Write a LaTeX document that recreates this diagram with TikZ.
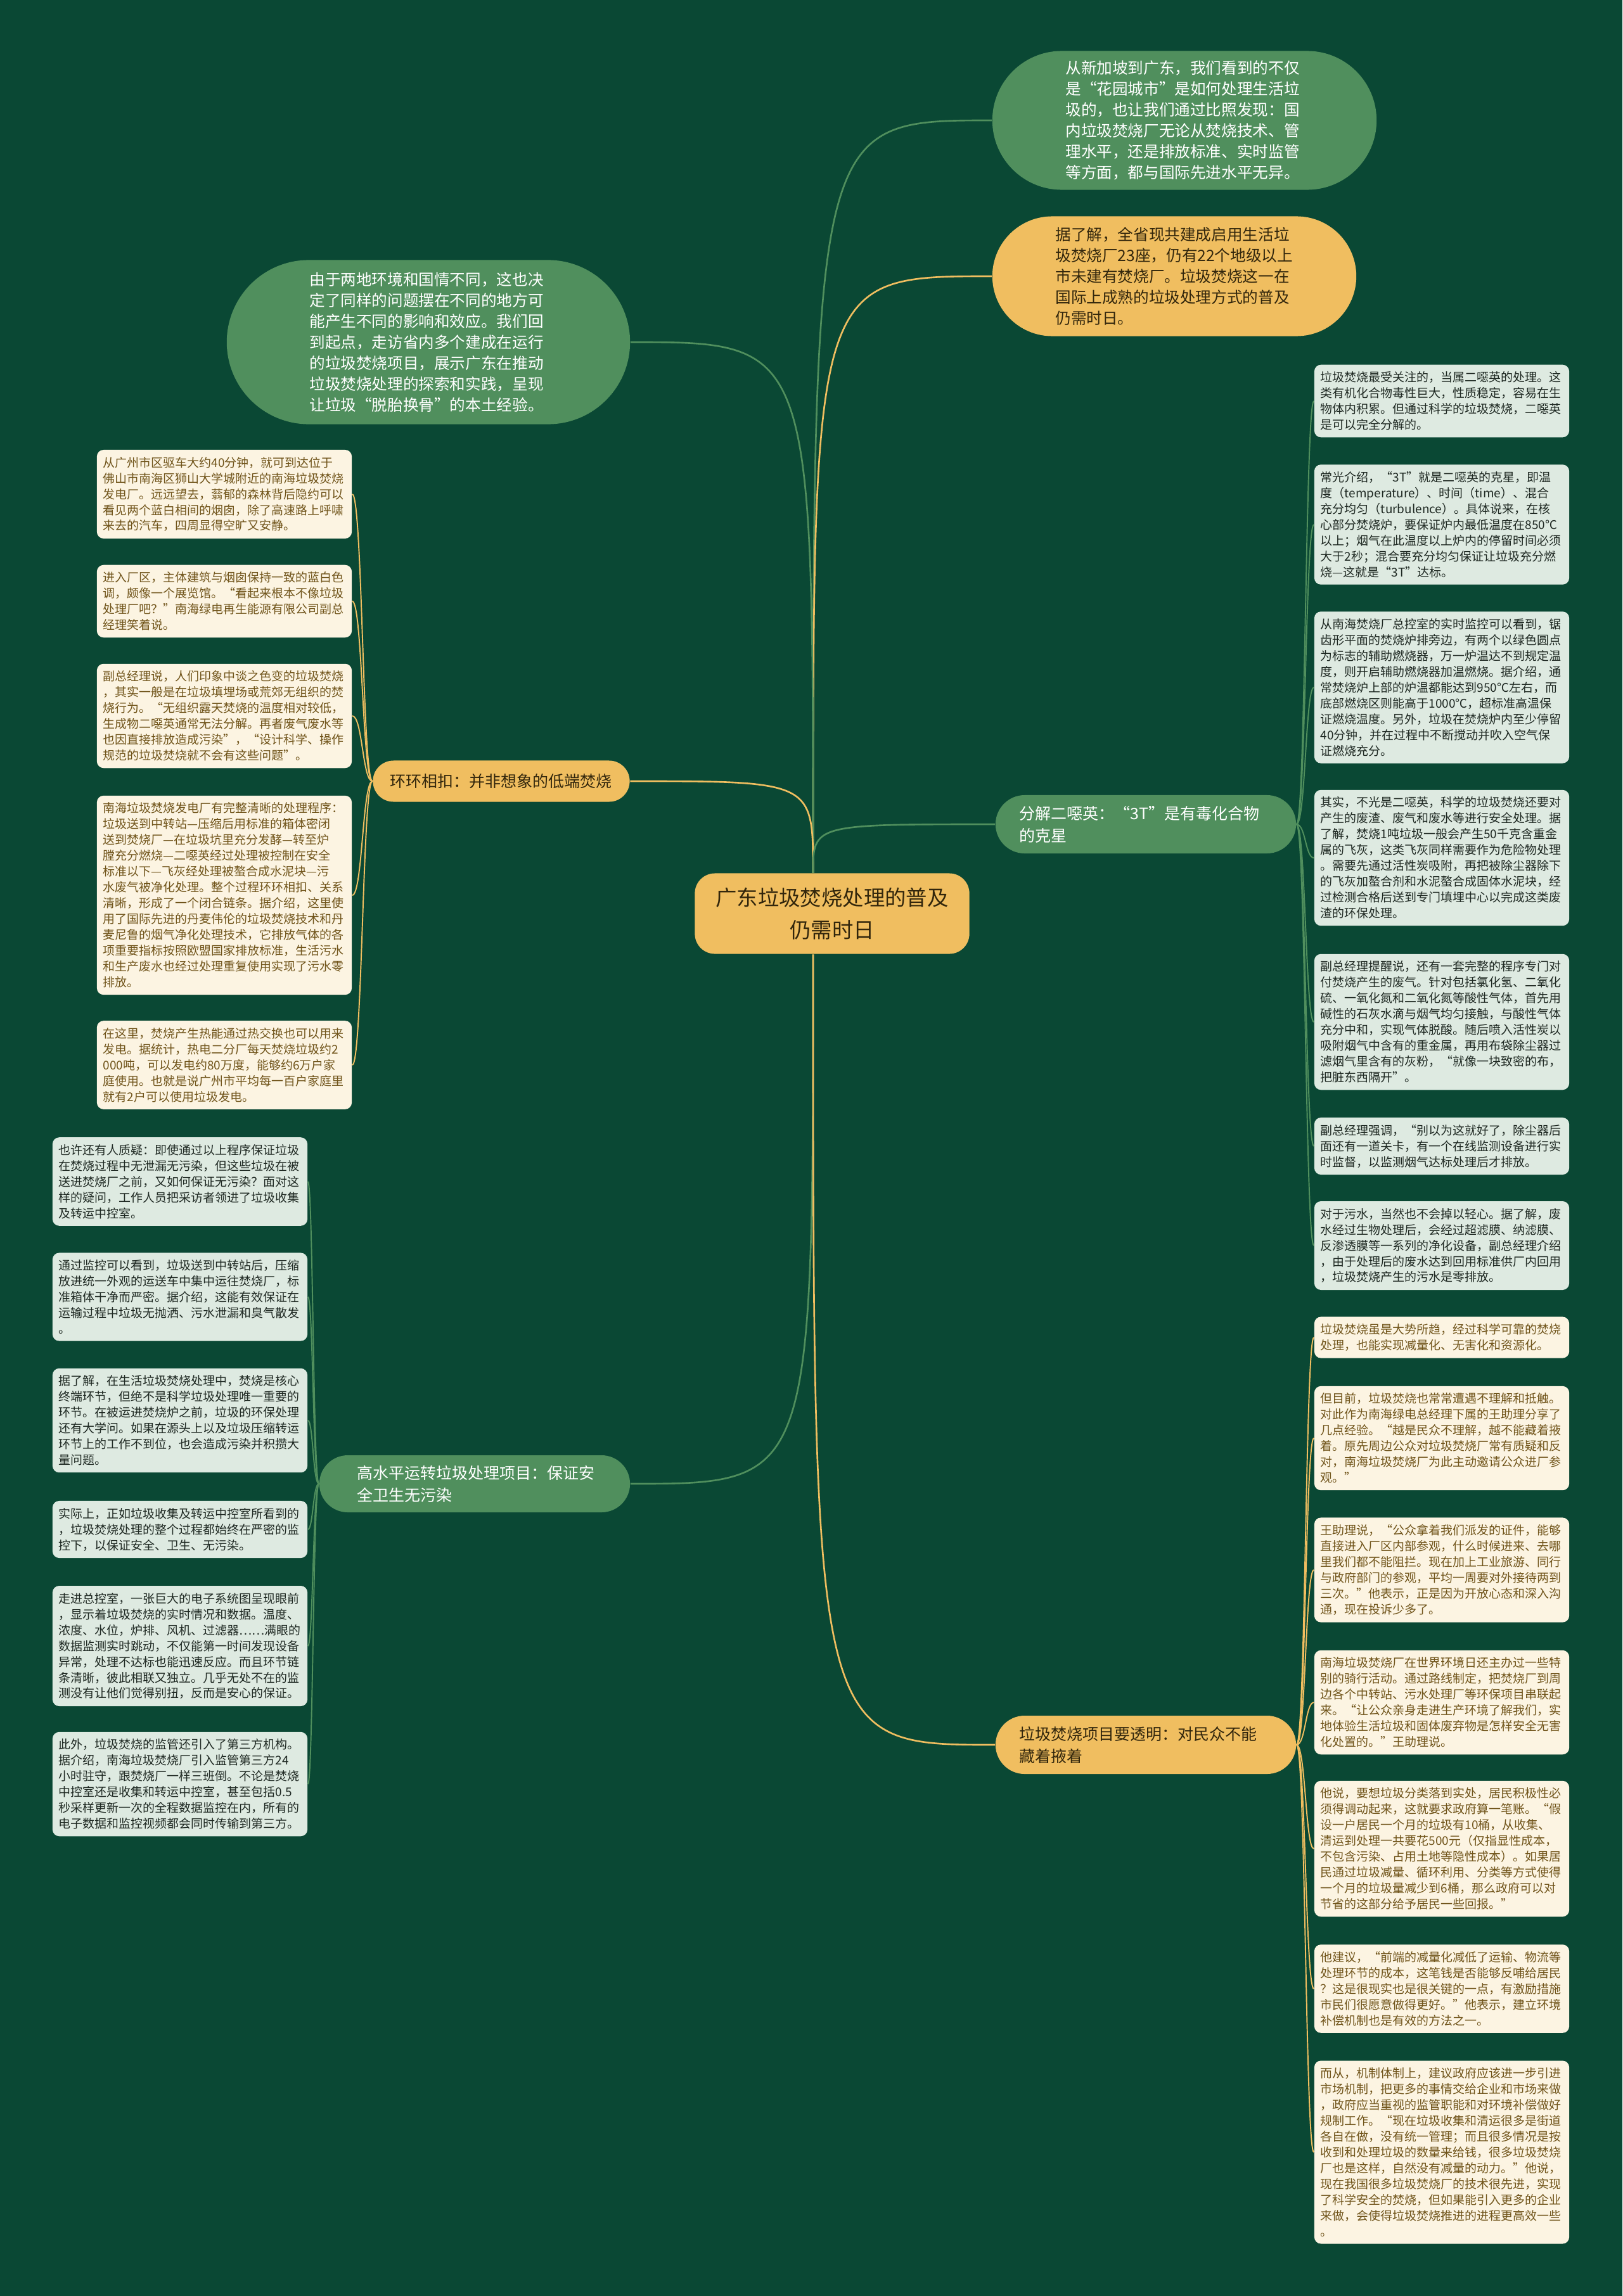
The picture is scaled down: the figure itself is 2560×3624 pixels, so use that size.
\documentclass[tikz,border=0pt]{standalone}
\usepackage{fontspec}
\setmainfont{Noto Sans CJK SC}
\usetikzlibrary{shapes.misc}
\definecolor{mmbg}{RGB}{10,72,52}
\definecolor{mmgreen}{RGB}{80,143,93}
\definecolor{mmyellow}{RGB}{240,190,96}
\definecolor{mmcream}{RGB}{252,244,226}
\definecolor{mmmint}{RGB}{222,234,225}
\definecolor{mmbrown}{RGB}{112,84,26}
\definecolor{mmink}{RGB}{30,40,34}
\definecolor{mmdark}{RGB}{50,38,12}
\hyphenpenalty=10000
\newcommand{\leaffont}{\fontsize{5.4pt}{7.1pt}\selectfont}
\newcommand{\bubfont}{\fontsize{7pt}{9.4pt}\selectfont}
\newcommand{\branchfont}{\fontsize{7.1pt}{9.95pt}\selectfont}
\newcommand{\rootfont}{\fontsize{9.5pt}{14.5pt}\selectfont}
\tikzset{
  leafy/.style={fill=mmcream, text=mmbrown, rounded corners=3pt,
                text width=3.82cm, inner xsep=0.1cm, inner ysep=0.11cm,
                align=left, font=\leaffont},
  leafg/.style={fill=mmmint, text=mmink, rounded corners=3pt,
                text width=3.82cm, inner xsep=0.1cm, inner ysep=0.11cm,
                align=left, font=\leaffont},
  bubble/.style={rounded rectangle, fill=#1, inner sep=0pt,
                 align=left, font=\bubfont},
  branch/.style={rounded rectangle, fill=#1, inner sep=0pt,
                 align=left, font=\branchfont},
  rootbox/.style={fill=mmyellow, text=mmdark, rounded corners=9pt,
                  minimum width=4.33cm, minimum height=1.27cm,
                  align=center, font=\rootfont},
  wire/.style={draw=#1, line width=0.75pt},
  twig/.style={draw=#1, line width=0.55pt},
}

\begin{document}
\begin{tikzpicture}[x=0.01cm, y=-0.01cm]

\fill[mmbg] (0,0) rectangle (2560,3624);
\useasboundingbox (0,0) rectangle (2560,3624);

% Root
\node[rootbox] (root) at (1313,1442) {广东垃圾焚烧处理的普及\\仍需时日};

% Top bubbles
\node[bubble=mmgreen, text=white, minimum width=6.06cm, minimum height=2.19cm,
      text width=3.75cm] (sgp) at (1869,190)
  {从新加坡到广东，我们看到的不仅\\是“花园城市”是如何处理生活垃\\圾的，也让我们通过比照发现：国\\内垃圾焚烧厂无论从焚烧技术、管\\理水平，还是排放标准、实时监管\\等方面，都与国际先进水平无异。};
\node[bubble=mmyellow, text=mmdark, minimum width=5.74cm, minimum height=1.89cm,
      text width=3.75cm] (gd) at (1853,436)
  {据了解，全省现共建成启用生活垃\\圾焚烧厂23座，仍有22个地级以上\\市未建有焚烧厂。垃圾焚烧这一在\\国际上成熟的垃圾处理方式的普及\\仍需时日。};
\node[bubble=mmgreen, text=white, minimum width=6.36cm, minimum height=2.59cm,
      text width=3.75cm] (bd) at (676,540)
  {由于两地环境和国情不同，这也决\\定了同样的问题摆在不同的地方可\\能产生不同的影响和效应。我们回\\到起点，走访省内多个建成在运行\\的垃圾焚烧项目，展示广东在推动\\垃圾焚烧处理的探索和实践，呈现\\让垃圾“脱胎换骨”的本土经验。};

% Branches
\node[branch=mmyellow, text=mmdark, minimum width=4.05cm, minimum height=0.65cm,
      text width=3.5cm] (hk) at (791,1233) {环环相扣：并非想象的低端焚烧};
\node[branch=mmgreen, text=white, minimum width=4.74cm, minimum height=0.92cm,
      text width=3.98cm] (dx) at (1808,1301) {分解二噁英：“3T”是有毒化合物\\的克星};
\node[branch=mmgreen, text=white, minimum width=4.9cm, minimum height=0.9cm,
      text width=3.7cm] (gs) at (749,2342) {高水平运转垃圾处理项目：保证安\\全卫生无污染};
\node[branch=mmyellow, text=mmdark, minimum width=4.74cm, minimum height=0.92cm,
      text width=3.98cm] (tm) at (1808,2754) {垃圾焚烧项目要透明：对民众不能\\藏着掖着};

% Leaves: 环环相扣
\node[leafy] (hk1) at (354,780)
  {从广州市区驱车大约40分钟，就可到达位于\\佛山市南海区狮山大学城附近的南海垃圾焚烧\\发电厂。远远望去，蓊郁的森林背后隐约可以\\看见两个蓝白相间的烟囱，除了高速路上呼啸\\来去的汽车，四周显得空旷又安静。};
\node[leafy] (hk2) at (354,949)
  {进入厂区，主体建筑与烟囱保持一致的蓝白色\\调，颇像一个展览馆。“看起来根本不像垃圾\\处理厂吧？”南海绿电再生能源有限公司副总\\经理笑着说。};
\node[leafy] (hk3) at (354,1130)
  {副总经理说，人们印象中谈之色变的垃圾焚烧\\，其实一般是在垃圾填埋场或荒郊无组织的焚\\烧行为。“无组织露天焚烧的温度相对较低，\\生成物二噁英通常无法分解。再者废气废水等\\也因直接排放造成污染”，“设计科学、操作\\规范的垃圾焚烧就不会有这些问题”。};
\node[leafy] (hk4) at (354,1413)
  {南海垃圾焚烧发电厂有完整清晰的处理程序：\\垃圾送到中转站—压缩后用标准的箱体密闭\\送到焚烧厂—在垃圾坑里充分发酵—转至炉\\膛充分燃烧—二噁英经过处理被控制在安全\\标准以下—飞灰经处理被螯合成水泥块—污\\水废气被净化处理。整个过程环环相扣、关系\\清晰，形成了一个闭合链条。据介绍，这里使\\用了国际先进的丹麦伟伦的垃圾焚烧技术和丹\\麦尼鲁的烟气净化处理技术，它排放气体的各\\项重要指标按照欧盟国家排放标准，生活污水\\和生产废水也经过处理重复使用实现了污水零\\排放。};
\node[leafy] (hk5) at (354,1681)
  {在这里，焚烧产生热能通过热交换也可以用来\\发电。据统计，热电二分厂每天焚烧垃圾约2\\000吨，可以发电约80万度，能够约6万户家\\庭使用。也就是说广州市平均每一百户家庭里\\就有2户可以使用垃圾发电。};

% Leaves: 二噁英
\node[leafg] (dx1) at (2275,633)
  {垃圾焚烧最受关注的，当属二噁英的处理。这\\类有机化合物毒性巨大，性质稳定，容易在生\\物体内积累。但通过科学的垃圾焚烧，二噁英\\是可以完全分解的。};
\node[leafg] (dx2) at (2275,828)
  {常光介绍，“3T”就是二噁英的克星，即温\\度（temperature）、时间（time）、混合\\充分均匀（turbulence）。具体说来，在核\\心部分焚烧炉，要保证炉内最低温度在850℃\\以上；烟气在此温度以上炉内的停留时间必须\\大于2秒；混合要充分均匀保证让垃圾充分燃\\烧—这就是“3T”达标。};
\node[leafg] (dx3) at (2275,1085)
  {从南海焚烧厂总控室的实时监控可以看到，锯\\齿形平面的焚烧炉排旁边，有两个以绿色圆点\\为标志的辅助燃烧器，万一炉温达不到规定温\\度，则开启辅助燃烧器加温燃烧。据介绍，通\\常焚烧炉上部的炉温都能达到950℃左右，而\\底部燃烧区则能高于1000℃，超标准高温保\\证燃烧温度。另外，垃圾在焚烧炉内至少停留\\40分钟，并在过程中不断搅动并吹入空气保\\证燃烧充分。};
\node[leafg] (dx4) at (2275,1354)
  {其实，不光是二噁英，科学的垃圾焚烧还要对\\产生的废渣、废气和废水等进行安全处理。据\\了解，焚烧1吨垃圾一般会产生50千克含重金\\属的飞灰，这类飞灰同样需要作为危险物处理\\。需要先通过活性炭吸附，再把被除尘器除下\\的飞灰加螯合剂和水泥螯合成固体水泥块，经\\过检测合格后送到专门填埋中心以完成这类废\\渣的环保处理。};
\node[leafg] (dx5) at (2275,1613)
  {副总经理提醒说，还有一套完整的程序专门对\\付焚烧产生的废气。针对包括氯化氢、二氧化\\硫、一氧化氮和二氧化氮等酸性气体，首先用\\碱性的石灰水滴与烟气均匀接触，与酸性气体\\充分中和，实现气体脱酸。随后喷入活性炭以\\吸附烟气中含有的重金属，再用布袋除尘器过\\滤烟气里含有的灰粉，“就像一块致密的布，\\把脏东西隔开”。};
\node[leafg] (dx6) at (2275,1809)
  {副总经理强调，“别以为这就好了，除尘器后\\面还有一道关卡，有一个在线监测设备进行实\\时监督，以监测烟气达标处理后才排放。};
\node[leafg] (dx7) at (2275,1966)
  {对于污水，当然也不会掉以轻心。据了解，废\\水经过生物处理后，会经过超滤膜、纳滤膜、\\反渗透膜等一系列的净化设备，副总经理介绍\\，由于处理后的废水达到回用标准供厂内回用\\，垃圾焚烧产生的污水是零排放。};

% Leaves: 高水平
\node[leafg] (gs1) at (284,1865)
  {也许还有人质疑：即使通过以上程序保证垃圾\\在焚烧过程中无泄漏无污染，但这些垃圾在被\\送进焚烧厂之前，又如何保证无污染？面对这\\样的疑问，工作人员把采访者领进了垃圾收集\\及转运中控室。};
\node[leafg] (gs2) at (284,2047)
  {通过监控可以看到，垃圾送到中转站后，压缩\\放进统一外观的运送车中集中运往焚烧厂，标\\准箱体干净而严密。据介绍，这能有效保证在\\运输过程中垃圾无抛洒、污水泄漏和臭气散发\\。};
\node[leafg] (gs3) at (284,2242)
  {据了解，在生活垃圾焚烧处理中，焚烧是核心\\终端环节，但绝不是科学垃圾处理唯一重要的\\环节。在被运进焚烧炉之前，垃圾的环保处理\\还有大学问。如果在源头上以及垃圾压缩转运\\环节上的工作不到位，也会造成污染并积攒大\\量问题。};
\node[leafg] (gs4) at (284,2414)
  {实际上，正如垃圾收集及转运中控室所看到的\\，垃圾焚烧处理的整个过程都始终在严密的监\\控下，以保证安全、卫生、无污染。};
\node[leafg] (gs5) at (284,2598)
  {走进总控室，一张巨大的电子系统图呈现眼前\\，显示着垃圾焚烧的实时情况和数据。温度、\\浓度、水位，炉排、风机、过滤器……满眼的\\数据监测实时跳动，不仅能第一时间发现设备\\异常，处理不达标也能迅速反应。而且环节链\\条清晰，彼此相联又独立。几乎无处不在的监\\测没有让他们觉得别扭，反而是安心的保证。};
\node[leafg] (gs6) at (284,2816)
  {此外，垃圾焚烧的监管还引入了第三方机构。\\据介绍，南海垃圾焚烧厂引入监管第三方24\\小时驻守，跟焚烧厂一样三班倒。不论是焚烧\\中控室还是收集和转运中控室，甚至包括0.5\\秒采样更新一次的全程数据监控在内，所有的\\电子数据和监控视频都会同时传输到第三方。};

% Leaves: 透明
\node[leafy] (tm1) at (2275,2111)
  {垃圾焚烧虽是大势所趋，经过科学可靠的焚烧\\处理，也能实现减量化、无害化和资源化。};
\node[leafy] (tm2) at (2275,2270)
  {但目前，垃圾焚烧也常常遭遇不理解和抵触。\\对此作为南海绿电总经理下属的王助理分享了\\几点经验。“越是民众不理解，越不能藏着掖\\着。原先周边公众对垃圾焚烧厂常有质疑和反\\对，南海垃圾焚烧厂为此主动邀请公众进厂参\\观。”};
\node[leafy] (tm3) at (2275,2478)
  {王助理说，“公众拿着我们派发的证件，能够\\直接进入厂区内部参观，什么时候进来、去哪\\里我们都不能阻拦。现在加上工业旅游、同行\\与政府部门的参观，平均一周要对外接待两到\\三次。”他表示，正是因为开放心态和深入沟\\通，现在投诉少多了。};
\node[leafy] (tm4) at (2275,2687)
  {南海垃圾焚烧厂在世界环境日还主办过一些特\\别的骑行活动。通过路线制定，把焚烧厂到周\\边各个中转站、污水处理厂等环保项目串联起\\来。“让公众亲身走进生产环境了解我们，实\\地体验生活垃圾和固体废弃物是怎样安全无害\\化处置的。”王助理说。};
\node[leafy] (tm5) at (2275,2918)
  {他说，要想垃圾分类落到实处，居民积极性必\\须得调动起来，这就要求政府算一笔账。“假\\设一户居民一个月的垃圾有10桶，从收集、\\清运到处理一共要花500元（仅指显性成本，\\不包含污染、占用土地等隐性成本）。如果居\\民通过垃圾减量、循环利用、分类等方式使得\\一个月的垃圾量减少到6桶，那么政府可以对\\节省的这部分给予居民一些回报。”};
\node[leafy] (tm6) at (2275,3139)
  {他建议，“前端的减量化减低了运输、物流等\\处理环节的成本，这笔钱是否能够反哺给居民\\？这是很现实也是很关键的一点，有激励措施\\市民们很愿意做得更好。”他表示，建立环境\\补偿机制也是有效的方法之一。};
\node[leafy] (tm7) at (2275,3397)
  {而从，机制体制上，建议政府应该进一步引进\\市场机制，把更多的事情交给企业和市场来做\\，政府应当重视的监管职能和对环境补偿做好\\规制工作。“现在垃圾收集和清运很多是街道\\各自在做，没有统一管理；而且很多情况是按\\收到和处理垃圾的数量来给钱，很多垃圾焚烧\\厂也是这样，自然没有减量的动力。”他说，\\现在我国很多垃圾焚烧厂的技术很先进，实现\\了科学安全的焚烧，但如果能引入更多的企业\\来做，会使得垃圾焚烧推进的进程更高效一些\\。};

% Root to branches
\draw[wire=mmgreen]  ([xshift=-0.3cm]root.north) .. controls ([xshift=-0.3cm]root.north |- sgp.west) .. (sgp.west);
\draw[wire=mmyellow] ([xshift=-0.3cm]root.north) .. controls ([xshift=-0.3cm]root.north |- gd.west) .. (gd.west);
\draw[wire=mmgreen]  ([xshift=-0.3cm]root.north) .. controls ([xshift=-0.3cm]root.north |- bd.east) .. (bd.east);
\draw[wire=mmyellow] ([xshift=-0.3cm]root.north) .. controls ([xshift=-0.3cm]root.north |- hk.east) .. (hk.east);
\draw[wire=mmgreen]  ([xshift=-0.3cm]root.north) .. controls ([xshift=-0.3cm]root.north |- dx.west) .. (dx.west);
\draw[wire=mmgreen]  ([xshift=-0.3cm]root.south) .. controls ([xshift=-0.3cm]root.south |- gs.east) .. (gs.east);
\draw[wire=mmyellow] ([xshift=-0.3cm]root.south) .. controls ([xshift=-0.3cm]root.south |- tm.west) .. (tm.west);

% Branches to leaves
\coordinate (hksp) at (572,0);
\coordinate (dxsp) at (2060,0);
\coordinate (gssp) at (494,0);
\coordinate (tmsp) at (2060,0);
\foreach \n in {hk1,hk2,hk3,hk4,hk5}
  \draw[twig=mmyellow] (hk.west) .. controls (hk.west -| hksp) and (\n.east -| hksp) .. (\n.east);
\foreach \n in {dx1,dx2,dx3,dx4,dx5,dx6,dx7}
  \draw[twig=mmgreen] (dx.east) .. controls (dx.east -| dxsp) and (\n.west -| dxsp) .. (\n.west);
\foreach \n in {gs1,gs2,gs3,gs4,gs5,gs6}
  \draw[twig=mmgreen] (gs.west) .. controls (gs.west -| gssp) and (\n.east -| gssp) .. (\n.east);
\foreach \n in {tm1,tm2,tm3,tm4,tm5,tm6,tm7}
  \draw[twig=mmyellow] (tm.east) .. controls (tm.east -| tmsp) and (\n.west -| tmsp) .. (\n.west);

\end{tikzpicture}
\end{document}
